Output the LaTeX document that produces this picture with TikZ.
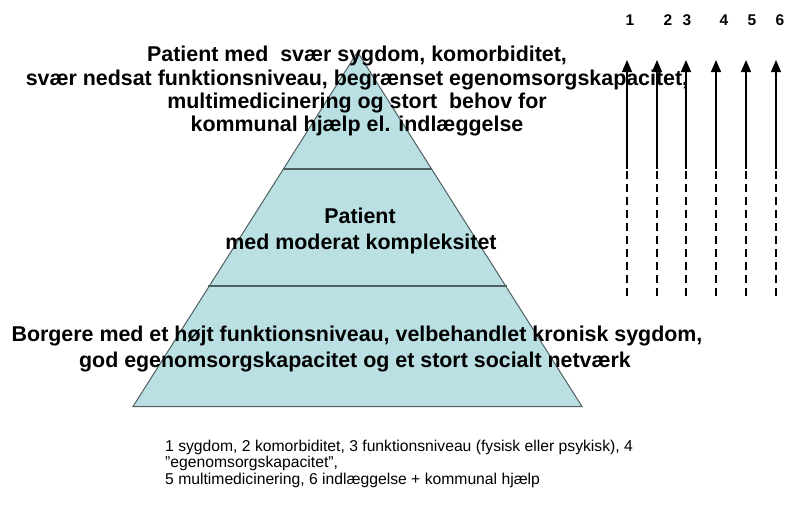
\documentclass[tikz,border=0pt]{standalone}
\usepackage{fontspec}
\setmainfont{Liberation Sans}
\usetikzlibrary{arrows.meta}
\definecolor{pyrfill}{RGB}{186,224,227}
\definecolor{pyrline}{RGB}{80,96,98}
\tikzset{
  bigtxt/.style={font=\bfseries\fontsize{21.4}{25}\selectfont, align=center, anchor=base, inner sep=0pt},
  numtxt/.style={font=\bfseries\fontsize{15.5}{18}\selectfont, anchor=base, inner sep=0pt},
  legtxt/.style={font=\fontsize{15.7}{16.5}\selectfont, align=left, anchor=base west, inner sep=0pt},
  solidarrow/.style={line width=1.3pt, -{Triangle[length=12pt,width=10pt]}},
  dashpart/.style={line width=1.3pt, dash pattern=on 8pt off 5pt}
}
\begin{document}
\begin{tikzpicture}[x=1pt,y=-1pt]
\useasboundingbox (0,0) rectangle (792,511);
% pyramid
\coordinate (apex) at (357.5,52);
\coordinate (bl) at (133,406.5);
\coordinate (br) at (582,406.5);
\fill[pyrfill] (apex) -- (br) -- (bl) -- cycle;
\draw[pyrline, line width=1pt] (apex) -- (br) -- (bl) -- cycle;
\coordinate (l1a) at (283,169); \coordinate (l1b) at (432,169);
\coordinate (l2a) at (208,286); \coordinate (l2b) at (507,286);
\draw[pyrline, line width=1.3pt] (l1a) -- (l1b);
\draw[pyrline, line width=1.3pt] (l2a) -- (l2b);
% texts
\node[bigtxt] (t1) at (357,62) {Patient med\ \ svær sygdom, komorbiditet,};
\node[bigtxt] (t2) at (357,85) {svær nedsat funktionsniveau, begrænset egenomsorgskapacitet,};
\node[bigtxt] (t3) at (357,108) {multimedicinering og stort\ \ behov for};
\node[bigtxt] (t4) at (357,131) {kommunal hjælp el. indlæggelse};
\node[bigtxt] (m1) at (360,223) {Patient};
\node[bigtxt] (m2) at (361,249) {med moderat kompleksitet};
\node[bigtxt] (b1) at (357,341) {Borgere med et højt funktionsniveau, velbehandlet kronisk sygdom,};
\node[bigtxt] (b2) at (355,367) {god egenomsorgskapacitet og et stort socialt netværk};
% arrows
\foreach \i/\x/\lx in {1/627/630, 2/657/668, 3/686/687, 4/716/724, 5/746/752, 6/776/780} {
  \node[numtxt] (n\i) at (\lx,26) {\i};
  \coordinate (top\i) at (\x,60);
  \coordinate (mid\i) at (\x,169);
  \coordinate (bot\i) at (\x,296);
  \draw[dashpart] (bot\i) -- (mid\i);
  \draw[solidarrow] (mid\i) -- (top\i);
}
% legend
\node[legtxt] (leg) at (165,484) {1 sygdom, 2 komorbiditet, 3 funktionsniveau (fysisk eller psykisk), 4\\
”egenomsorgskapacitet”,\\
5 multimedicinering, 6 indlæggelse + kommunal hjælp};
\end{tikzpicture}
\end{document}
